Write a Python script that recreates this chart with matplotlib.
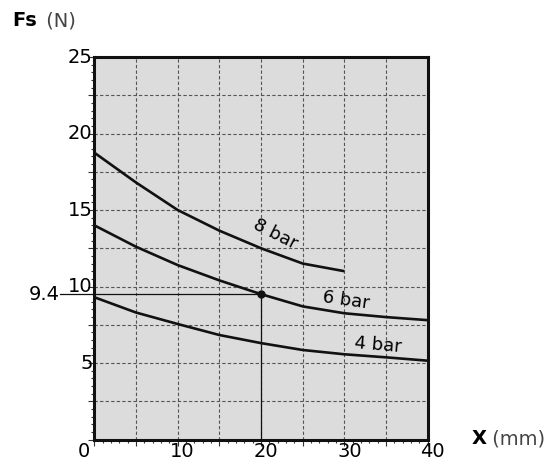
import matplotlib
matplotlib.use("Agg")
import matplotlib.pyplot as plt
import matplotlib.transforms as mtrans
from matplotlib.ticker import MultipleLocator

# ---- data ----
x8 = [0, 5, 10, 15, 20, 25, 30]
y8 = [18.75, 16.8, 15.0, 13.65, 12.5, 11.5, 11.0]
x6 = [0, 5, 10, 15, 20, 25, 30, 35, 40]
y6 = [14.0, 12.6, 11.4, 10.4, 9.5, 8.7, 8.25, 8.0, 7.8]
x4 = [0, 5, 10, 15, 20, 25, 30, 35, 40]
y4 = [9.3, 8.3, 7.55, 6.83, 6.3, 5.85, 5.57, 5.37, 5.15]
marker_x = 20
marker_y = 9.5
marker_label = "9.4"
xticks = [0, 10, 20, 30, 40]
yticks = [5, 10, 15, 20, 25]
labels = [("8 bar", 21.7, 13.4, -27), ("6 bar", 30.2, 9.1, -8), ("4 bar", 34.0, 6.2, -5)]

fig = plt.figure(figsize=(5.52, 4.62), dpi=100)
ax = fig.add_axes([0.1708, 0.0487, 0.6042, 0.8279])
ax.set_facecolor("#dcdcdc")
ax.set_xlim(0, 40)
ax.set_ylim(0, 25)

# grid
ax.xaxis.set_major_locator(MultipleLocator(5))
ax.yaxis.set_major_locator(MultipleLocator(2.5))
ax.xaxis.set_minor_locator(MultipleLocator(1))
ax.yaxis.set_minor_locator(MultipleLocator(0.5))
ax.grid(True, which="major", color="#555555", linestyle=(0, (3, 2)), linewidth=0.8)
ax.set_axisbelow(True)

ax.tick_params(which="major", direction="out", length=4, width=0.8, color="#333333")
ax.tick_params(which="minor", direction="out", length=2.5, width=0.8, color="#333333")
ax.set_xticklabels([])
ax.set_yticklabels([])

for s in ax.spines.values():
    s.set_linewidth(2.2)
    s.set_color("#111111")

lw = 1.9
ax.plot(x8, y8, color="#111111", lw=lw, solid_capstyle="butt")
ax.plot(x6, y6, color="#111111", lw=lw, solid_capstyle="butt")
ax.plot(x4, y4, color="#111111", lw=lw, solid_capstyle="butt")

# reference lines
ax.plot([-4.1, marker_x], [marker_y, marker_y], color="#111111", lw=0.9, clip_on=False)
ax.plot([marker_x, marker_x], [0, marker_y], color="#111111", lw=0.9)
ax.plot([marker_x], [marker_y], "o", color="#111111", ms=5)

fs = 14
# tick labels as text
for v in xticks:
    dx = -10 if v == 0 else 5
    off = mtrans.ScaledTranslation(dx / 100, -17 / 100, fig.dpi_scale_trans)
    ax.text(v, 0, str(v), ha="center", va="baseline", fontsize=fs,
            transform=ax.transData + off, clip_on=False)
for v in yticks:
    ax.text(-0.2, v, str(v), ha="right", va="center", fontsize=fs, clip_on=False)
ax.text(-4.1, marker_y, marker_label, ha="right", va="center", fontsize=fs, clip_on=False)

for t, xx, yy, r in labels:
    ax.text(xx, yy, t, ha="center", va="center", fontsize=13, rotation=r,
            rotation_mode="anchor")

fig.text(12 / 552, 1 - 21 / 462, "Fs", fontsize=14, fontweight="bold", ha="left", va="center")
fig.text(40 / 552, 1 - 21 / 462, " (N)", fontsize=14, color="#444444", ha="left", va="center")
fig.text(472 / 552, 1 - 439 / 462, "X", fontsize=14, fontweight="bold", ha="left", va="center")
fig.text(486 / 552, 1 - 439 / 462, " (mm)", fontsize=14, color="#444444", ha="left", va="center")

fig.savefig("out.png", dpi=100)
